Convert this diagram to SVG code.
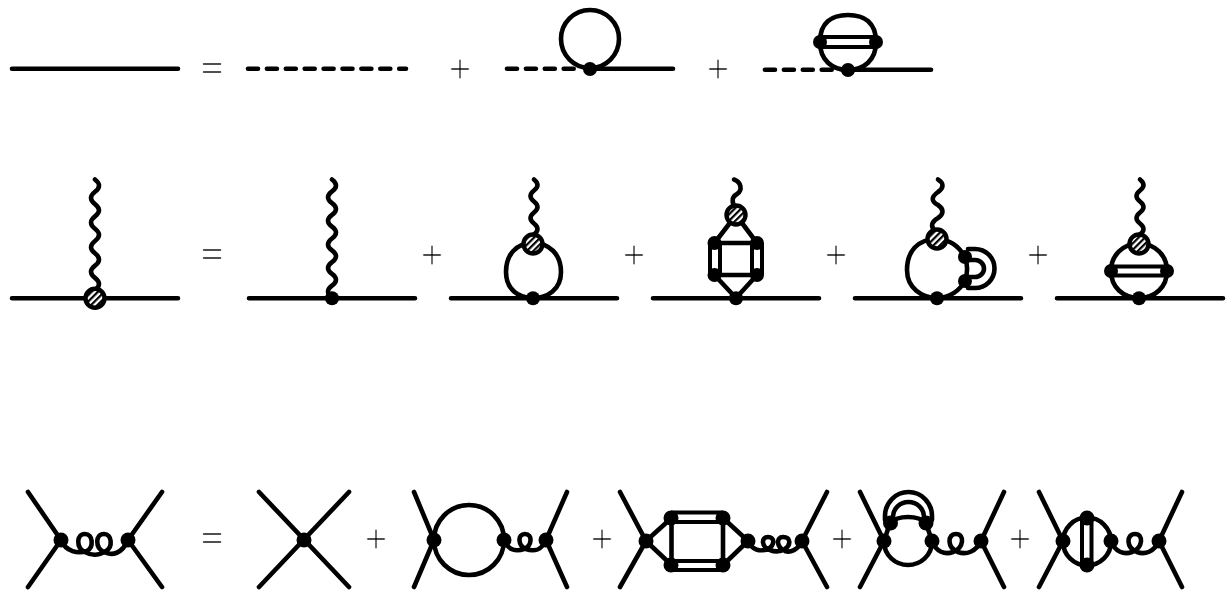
<svg xmlns="http://www.w3.org/2000/svg" width="1232" height="590" viewBox="0 0 1232 590">
<style>
.l{fill:none;stroke:#000;stroke-width:4.6;stroke-linecap:round;stroke-linejoin:round}
.t{fill:none;stroke:#000;stroke-width:4;stroke-linecap:butt}
.d{stroke-dasharray:10 8.900}
.v{fill:#000}
.b{fill:url(#h);stroke:#000;stroke-width:4.400}
.s{font-family:"Liberation Serif",serif;font-size:39px;text-anchor:middle;fill:#000;stroke:#fff;stroke-width:.7px}
.e{font-family:"Liberation Serif",serif;font-size:39px;text-anchor:middle;fill:#000;stroke:#fff;stroke-width:.3px}
</style>
<defs>
<pattern id="h" width="4.500" height="4.500" patternUnits="userSpaceOnUse" patternTransform="rotate(45)">
<rect width="4.500" height="4.500" fill="#fff"/><rect width="2.200" height="4.500" fill="#000"/>
</pattern>
<filter id="g" x="0" y="0" width="1" height="1"><feOffset dx="0" dy="0"/></filter>
</defs>
<rect width="1232" height="590" fill="#fff"/>
<g id="connectors">
<g id="row1">
<path class="l" d="M12 68.700H178"/>
<path class="l d" d="M248 68.700H406"/>
<path class="l d" d="M507 68.700H578"/>
<path class="l" d="M590 68.700H673"/>
<circle class="l" cx="590" cy="39" r="29"/>
<path class="l d" d="M765 69.700H836"/>
<path class="l" d="M848 69.700H931"/>
<path class="l" d="M820 42C820 22 832 15 848 15C864 15 876 22 876 42C876 60 864 70 848 70C832 70 820 60 820 42Z"/>
<path class="t" d="M822 37H874M822 47H874"/>
</g>
<g id="row2">
<path class="l" d="M12 298.300H178M249 298.300H415M451 298.300H617M653 298.300H819M855 298.300H1021M1057 298.300H1223"/>
<path class="l" d="M95 179.500q8 6.150 0 12.300t0 12.300t0 12.300t0 12.300t0 12.300t0 12.300t0 12.300t0 12.300t0 12.300"/>
<path class="l" d="M332 179.500q8 5.900 0 11.800t0 11.800t0 11.800t0 11.800t0 11.800t0 11.800t0 11.800t0 11.800t0 11.800t0 11.800"/>
<path class="l" d="M534 179.500q7 5.500 0 11t0 11t0 11t0 11t0 11"/>
<path class="l" d="M533 243C517 243 506 254 506 272C506 290 519 298 533 298C547 298 561 290 561 272C561 254 549 243 533 243"/>
<path class="l" d="M734 179.500C741 182 743 190 737 194C732 197 732 200 733.500 205"/>
<path class="l" d="M736 215L714.500 243H757ZM714.500 275H757L736 298Z"/>
<path class="t" d="M710 243V275M720 243V275M752 243V275M762 243V275"/>
<path class="l" d="M938 179.500C944 183 944 188 938 192C931 197 931 201 938 205C944 209 944 214 938 218C931 222 931 226 934 230"/>
<path class="l" d="M937 239C917 239 907 252 907 270C907 288 922 298 937 298C950 298 960 290 965 281C968 272 968 265 965 257C958 245 950 240 937 239"/>
<path class="l" d="M968 249H975A19.500 19.500 0 0 1 975 288H968"/>
<path class="l" d="M968 260H975A9 8.500 0 0 1 975 277H968"/>
<path class="l" d="M1140 179.500q7 5.500 0 11t0 11t0 11t0 11t0 11"/>
<path class="l" d="M1111 271C1111 255 1123 244 1139 243C1155 244 1167 255 1167 271C1167 287 1155 298 1139 298C1123 298 1111 287 1111 271Z"/>
<path class="t" d="M1113 266.500H1165M1113 275.500H1165"/>
</g>
<g id="row3">
<path class="l" d="M28 492L61 540L28 587M162 492L128 540L162 587"/>
<path class="l" d="M61 540C66 552 78 554 87 551C94 547 93 534 85 534C76 534 76 548 85 552C92 556 98 556 106 551C113 547 112 534 104 534C95 534 95 548 104 552C112 556 122 554 128 540"/>
<path class="l" d="M259 492L349 587M349 492L259 587"/>
<path class="l" d="M414 492L434 540L414 587M567 492L546 540L567 587"/>
<circle class="l" cx="469" cy="540" r="35"/>
<path class="l" d="M504 540C508 550 516 552 524 549C532 546 533 534 525 534C517 534 518 546 526 549C534 552 542 550 546 540"/>
<path class="l" d="M620 492L646 541L620 587M827 492L802 541L827 587"/>
<path class="l" d="M646 541L671.500 518V565L646 541M748 541L723 518V565L748 541"/>
<path class="t" d="M671 512.500H723M671 522H723M671 561H723M671 570H723"/>
<path class="l" d="M748 541C752 550 760 552 768 549C775 545 775 537 768 537C761 537 761 547 770 550C775 552 780 552 785 549C791 545 791 537 783 537C776 537 776 547 785 551C790 553 798 550 802 541"/>
<path class="l" d="M860 492L884 541L860 587M1004 492L981 541L1004 587"/>
<path class="l" d="M884 541L890 523C898 515 918 515 926 523L932 541C932 556 920 565 908 565C896 565 884 556 884 541"/>
<path class="l" d="M885 520V516A23.500 24 0 0 1 932 516V520"/>
<path class="l" d="M893 521V517A15.500 15 0 0 1 924 517V521"/>
<path class="l" d="M932 541C936 552 945 555 953 552C964 548 965 534 956 534C947 534 947 548 958 552C966 555 976 552 981 541"/>
<path class="l" d="M1039 492L1063 541L1039 587M1182 492L1159 541L1182 587"/>
<circle class="l" cx="1087" cy="541.500" r="24"/>
<path class="t" d="M1082 518V565M1091.500 518V565"/>
<path class="l" d="M1111 541C1115 552 1124 555 1132 552C1143 548 1144 534 1135 534C1126 534 1126 548 1137 552C1145 555 1154 552 1159 541"/>
</g>
</g>
<g id="vertices">
<g id="n1"><circle class="v" cx="590" cy="69" r="7"/></g>
<g id="n2"><circle class="v" cx="848" cy="70" r="7"/></g>
<g id="n3"><circle class="v" cx="820" cy="42" r="7"/></g>
<g id="n4"><circle class="v" cx="876" cy="42" r="7"/></g>
<g id="n5"><circle class="b" cx="95" cy="298.300" r="9.500"/></g>
<g id="n6"><circle class="v" cx="332" cy="298.300" r="7"/></g>
<g id="n7"><circle class="b" cx="533" cy="244" r="9.500"/></g>
<g id="n8"><circle class="v" cx="533" cy="298.300" r="7"/></g>
<g id="n9"><circle class="b" cx="736" cy="215" r="9.500"/></g>
<g id="n10"><circle class="v" cx="714.500" cy="243" r="7"/></g>
<g id="n11"><circle class="v" cx="757" cy="243" r="7"/></g>
<g id="n12"><circle class="v" cx="714.500" cy="275" r="7"/></g>
<g id="n13"><circle class="v" cx="757" cy="275" r="7"/></g>
<g id="n14"><circle class="v" cx="736" cy="298.300" r="7"/></g>
<g id="n15"><circle class="b" cx="937" cy="239" r="9.500"/></g>
<g id="n16"><circle class="v" cx="965" cy="257" r="7"/></g>
<g id="n17"><circle class="v" cx="965" cy="281" r="7"/></g>
<g id="n18"><circle class="v" cx="937" cy="298.300" r="7"/></g>
<g id="n19"><circle class="b" cx="1139" cy="244" r="9.500"/></g>
<g id="n20"><circle class="v" cx="1111" cy="271" r="7"/></g>
<g id="n21"><circle class="v" cx="1167" cy="271" r="7"/></g>
<g id="n22"><circle class="v" cx="1139" cy="298.300" r="7"/></g>
<g id="n23"><circle class="v" cx="61" cy="540" r="7.500"/></g>
<g id="n24"><circle class="v" cx="128" cy="540" r="7.500"/></g>
<g id="n25"><circle class="v" cx="304" cy="540" r="7.500"/></g>
<g id="n26"><circle class="v" cx="434" cy="540" r="7.500"/></g>
<g id="n27"><circle class="v" cx="504" cy="540" r="7.500"/></g>
<g id="n28"><circle class="v" cx="546" cy="540" r="7.500"/></g>
<g id="n29"><circle class="v" cx="646" cy="541" r="7.500"/></g>
<g id="n30"><circle class="v" cx="671" cy="518" r="7.500"/></g>
<g id="n31"><circle class="v" cx="723" cy="518" r="7.500"/></g>
<g id="n32"><circle class="v" cx="671" cy="565" r="7.500"/></g>
<g id="n33"><circle class="v" cx="723" cy="565" r="7.500"/></g>
<g id="n34"><circle class="v" cx="748" cy="541" r="7.500"/></g>
<g id="n35"><circle class="v" cx="802" cy="541" r="7.500"/></g>
<g id="n36"><circle class="v" cx="884" cy="541" r="7.500"/></g>
<g id="n37"><circle class="v" cx="890.500" cy="523" r="7.500"/></g>
<g id="n38"><circle class="v" cx="926" cy="523" r="7.500"/></g>
<g id="n39"><circle class="v" cx="932" cy="541" r="7.500"/></g>
<g id="n40"><circle class="v" cx="981" cy="541" r="7.500"/></g>
<g id="n41"><circle class="v" cx="1063" cy="541" r="7.500"/></g>
<g id="n42"><circle class="v" cx="1087" cy="518" r="7.500"/></g>
<g id="n43"><circle class="v" cx="1087" cy="565" r="7.500"/></g>
<g id="n44"><circle class="v" cx="1111" cy="541" r="7.500"/></g>
<g id="n45"><circle class="v" cx="1159" cy="541" r="7.500"/></g>
</g>
<g id="signs" filter="url(#g)">
<text class="e" x="212" y="82">=</text>
<text class="s" x="460" y="82">+</text>
<text class="s" x="718" y="82">+</text>
<text class="e" x="212" y="268">=</text>
<text class="s" x="432" y="268">+</text>
<text class="s" x="634" y="268">+</text>
<text class="s" x="836" y="268">+</text>
<text class="s" x="1038" y="268">+</text>
<text class="e" x="212" y="552">=</text>
<text class="s" x="376" y="552">+</text>
<text class="s" x="602" y="552">+</text>
<text class="s" x="842" y="552">+</text>
<text class="s" x="1020" y="552">+</text>
</g>
</svg>
